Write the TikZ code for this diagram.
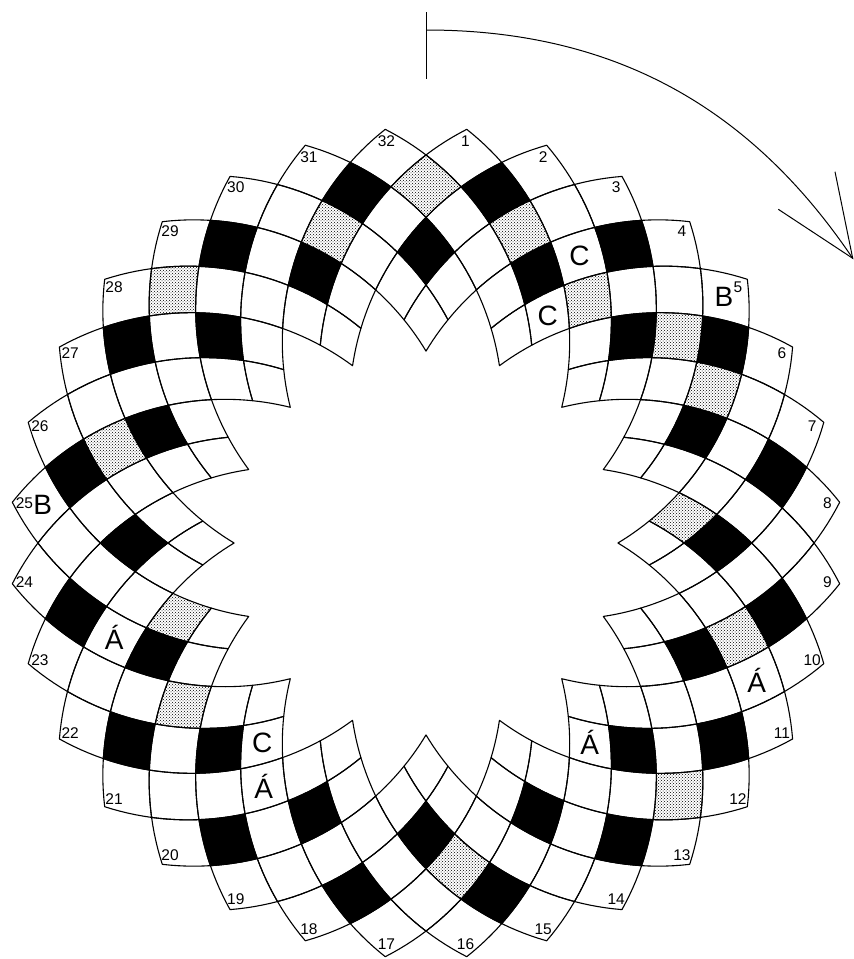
\documentclass[tikz,border=0pt]{standalone}
\usepackage{fontspec}
\setmainfont{Liberation Sans}
\usetikzlibrary{patterns}
\tikzset{
  declare function={
    rq(\q)=2.38*cos(37.96+5.625*\q)+sqrt(2.71*2.71-(2.38*sin(37.96+5.625*\q))^2);
    lx(\p,\q)=4.26+rq(\q)*sin(5.625*\p);
    ly(\p,\q)=5.43-rq(\q)*cos(5.625*\p);
  },
  cellline/.style={line width=1.1pt,line join=round},
  blackcell/.style={fill=black},
  dotcell/.style={pattern=crosshatch dots,pattern color=black},
  numlab/.style={font=\fontsize{15.5}{15.5}\selectfont,inner sep=0pt},
  biglab/.style={font=\fontsize{28}{28}\selectfont,inner sep=0pt},
  thinline/.style={line width=1pt}
}
\newcommand{\celpath}[2]{%
 plot[domain=0:1,samples=7,variable=\vv] ({lx(#1+\vv,#2-1+\vv)},{ly(#1+\vv,#2-1+\vv)})
 -- plot[domain=0:1,samples=7,variable=\vv] ({lx(#1+1-\vv,#2+\vv)},{ly(#1+1-\vv,#2+\vv)})
 -- plot[domain=0:1,samples=7,variable=\vv] ({lx(#1-\vv,#2+1-\vv)},{ly(#1-\vv,#2+1-\vv)})
 -- plot[domain=0:1,samples=7,variable=\vv] ({lx(#1-1+\vv,#2-\vv)},{ly(#1-1+\vv,#2-\vv)})
 -- cycle}
\begin{document}
\begin{tikzpicture}[x=100pt,y=-100pt]
\useasboundingbox (0,0) rectangle (8.54,9.59);
% black cells
\foreach \pp/\cc in {2/2,6/2,10/2,14/2,18/2,22/2,26/2,30/2,-30/2,-26/2,-22/2,-18/2,-14/2,-10/2,-6/2,-2/2,
  0/4,4/4,8/4,12/4,16/4,20/4,24/4,28/4,32/4,-28/4,-24/4,-20/4,-16/4,-12/4,-8/4,-4/4}
  {\fill[blackcell] \celpath{\pp}{\cc};}
% dotted cells
\foreach \pp/\cc in {0/2,3/3,-3/3,6/4,9/3,11/3,15/5,19/3,24/2,31/3,-22/4,-19/5,-13/3,-8/2}
  {\fill[dotcell] \celpath{\pp}{\cc};}
% outlines of all cells
\foreach \cc in {1,...,5}{
  \foreach \k in {0,...,31}{
    \pgfmathtruncatemacro\pp{2*\k-31+mod(\cc+1,2)}
    \draw[cellline] \celpath{\pp}{\cc};
  }
}
\foreach \k in {0,...,15}{
  \pgfmathtruncatemacro\pp{4*\k}
  \draw[cellline] \celpath{\pp}{6};
}
% clue numbers
\foreach \k in {1,...,32}{
  \node[numlab] (n\k) at ({4.26+4.035*sin(5.625*(2*\k-1))},{5.43-4.035*cos(5.625*(2*\k-1))}) {\k};
}
% letters
\node[biglab] (lc1) at ({lx(5,3)},{ly(5,3)}) {C};
\node[biglab] (lc2) at ({lx(5,5)},{ly(5,5)}) {C};
\node[biglab] (lc3) at ({lx(-25,5)},{ly(-25,5)}) {C};
\node[biglab] (la1) at ({lx(-19,3)},{ly(-19,3)}) {Á};
\node[biglab] (la2) at ({lx(-26,4)},{ly(-26,4)}) {Á};
\node[biglab] (la3) at ({lx(25,5)},{ly(25,5)}) {Á};
\node[biglab] (la4) at ({lx(20,2)},{ly(20,2)}) {Á};
\node[biglab] (lb1) at ({lx(9,1)-0.02},{ly(9,1)}) {B};
\node[biglab] (lb2) at ({lx(-15,1)+0.03},{ly(-15,1)}) {B};
% rotation arrow
\coordinate (tickTop) at (4.26,0.12);
\coordinate (tickBot) at (4.26,0.79);
\coordinate (arcStart) at (4.26,0.30);
\coordinate (arcEnd) at (8.527,2.583);
\coordinate (headA) at (7.783,2.093);
\coordinate (headB) at (8.35,1.717);
\draw[thinline] (tickTop) -- (tickBot);
\draw[thinline] (arcStart) .. controls (6.11,0.30) and (7.491,1.047) .. (arcEnd);
\draw[thinline] (headA) -- (arcEnd) -- (headB);
\end{tikzpicture}
\end{document}
